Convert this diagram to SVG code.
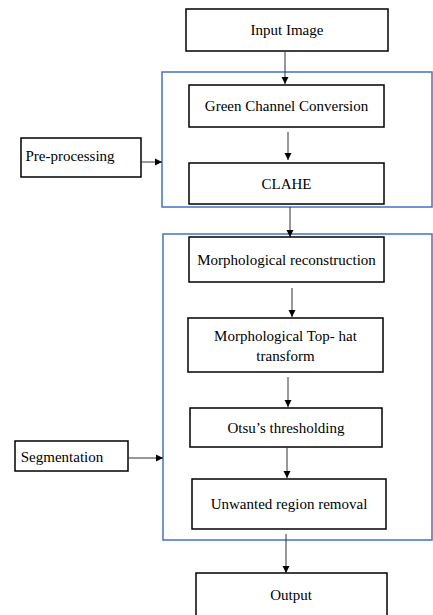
<svg xmlns="http://www.w3.org/2000/svg" width="433" height="615" viewBox="0 0 433 615">
<style>
.box{fill:#fff;stroke:#000;stroke-width:1.5}
.grp{fill:none;stroke:#4472c4;stroke-width:1.5}
.t{font-family:'Liberation Serif','DejaVu Serif','Times New Roman',serif;font-size:15px;fill:#000;text-anchor:middle}
.c{stroke:#333;stroke-width:1;fill:none}
</style>
<defs>
<marker id="ah" markerWidth="8" markerHeight="8" refX="7" refY="4" orient="auto" markerUnits="userSpaceOnUse">
<path d="M0,0.5 L7,4 L0,7.5 Z" fill="#000"/>
</marker>
</defs>
<rect x="0" y="0" width="433" height="615" fill="#fff"/>
<g id="preprocessing-group"><rect class="grp" x="162" y="72" width="270" height="135"/></g>
<g id="segmentation-group"><rect class="grp" x="163" y="234" width="269" height="306"/></g>
<g id="input"><rect class="box" x="186" y="9" width="202" height="42"/><text class="t" x="287" y="35">Input Image</text></g>
<g id="green"><rect class="box" x="189" y="85" width="195" height="42"/><text class="t" x="286.5" y="111">Green Channel Conversion</text></g>
<g id="clahe"><rect class="box" x="189" y="163" width="195" height="41"/><text class="t" x="286.5" y="189">CLAHE</text></g>
<g id="preproc-label"><rect class="box" x="21" y="138" width="120" height="39"/><text class="t" x="70" y="161">Pre-processing</text></g>
<g id="morph-recon"><rect class="box" x="189" y="237" width="195" height="45"/><text class="t" x="286.5" y="265">Morphological reconstruction</text></g>
<g id="tophat"><rect class="box" x="188" y="318" width="195" height="54"/><text class="t" x="285.5" y="341">Morphological Top- hat</text><text class="t" x="285.5" y="361">transform</text></g>
<g id="otsu"><rect class="box" x="190" y="408" width="192" height="39"/><text class="t" x="286" y="433">Otsu’s thresholding</text></g>
<g id="unwanted"><rect class="box" x="192" y="479" width="194" height="50"/><text class="t" x="289" y="509">Unwanted region removal</text></g>
<g id="seg-label"><rect class="box" x="15" y="441" width="113" height="30"/><text class="t" x="62" y="462">Segmentation</text></g>
<g id="output"><rect class="box" x="196" y="573" width="191" height="44"/><text class="t" x="291" y="600">Output</text></g>
<g id="connectors">
<line class="c" x1="285" y1="51" x2="285" y2="84" marker-end="url(#ah)"/>
<line class="c" x1="288" y1="132" x2="288" y2="160" marker-end="url(#ah)"/>
<line class="c" x1="290" y1="207" x2="290" y2="237" marker-end="url(#ah)"/>
<line class="c" x1="292" y1="288" x2="292" y2="317" marker-end="url(#ah)"/>
<line class="c" x1="288" y1="377" x2="288" y2="407" marker-end="url(#ah)"/>
<line class="c" x1="287" y1="447" x2="287" y2="478" marker-end="url(#ah)"/>
<line class="c" x1="286" y1="534" x2="286" y2="573" marker-end="url(#ah)"/>
<line class="c" x1="141" y1="162" x2="162" y2="162" marker-end="url(#ah)"/>
<line class="c" x1="128" y1="458" x2="163" y2="458" marker-end="url(#ah)"/>
</g>
</svg>
